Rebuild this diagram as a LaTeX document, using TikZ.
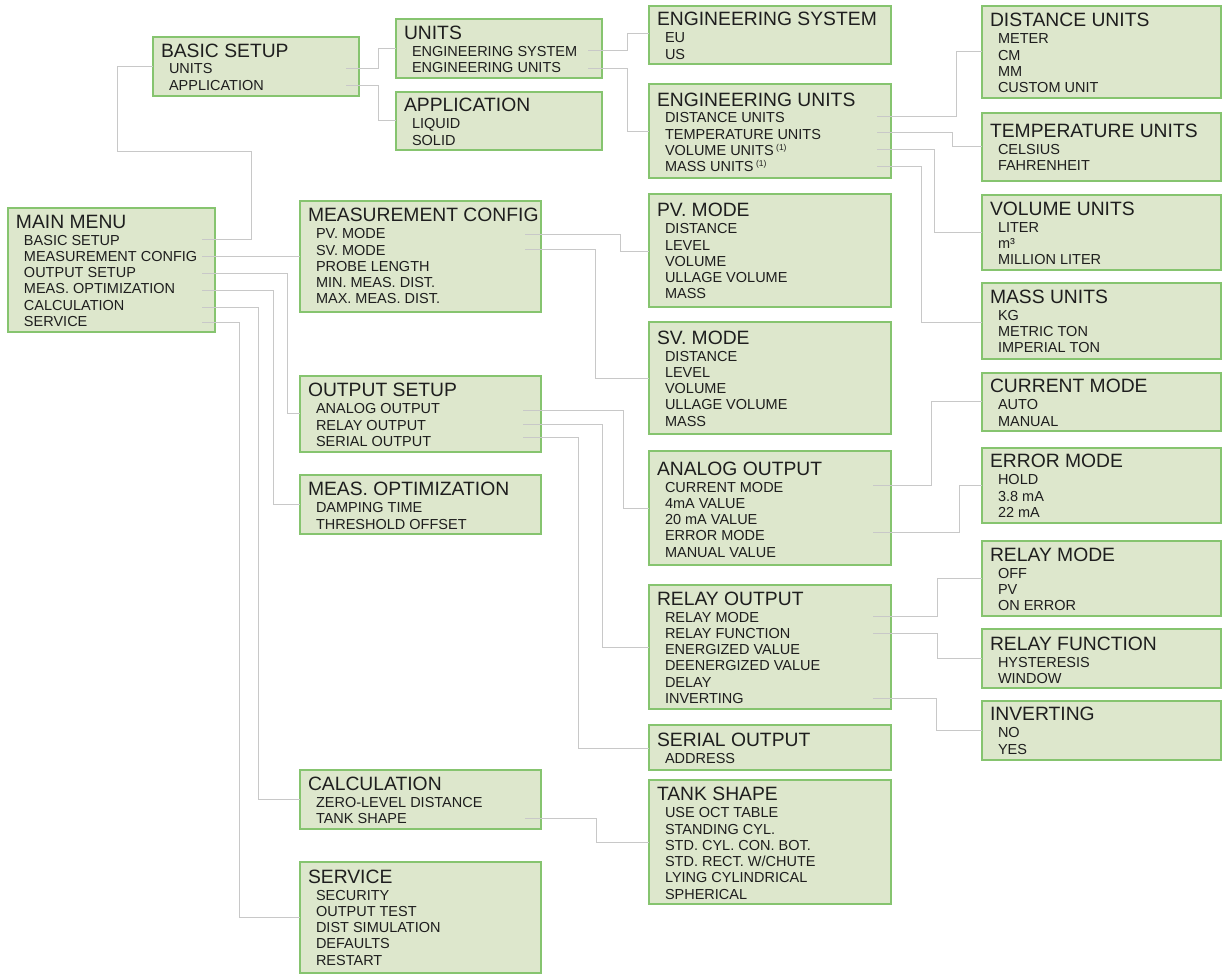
\documentclass[tikz,border=0pt]{standalone}
\usepackage{fontspec}
\setmainfont{Liberation Sans}
\usetikzlibrary{calc}
\definecolor{boxfill}{HTML}{DDE7CC}
\definecolor{boxline}{HTML}{86C46F}
\definecolor{connline}{HTML}{C8C8C8}
\definecolor{txt}{HTML}{1E1E1E}
\newcommand\nxt{\\\hspace*{16pt}}
\newcommand\sone{\,\raisebox{5pt}{\fontsize{8.5}{9}\selectfont(1)}}
\tikzset{
  menubox/.style={draw=boxline, fill=boxfill, line width=2pt, inner sep=0pt, outer sep=0pt, anchor=north west, text=txt},
  conn/.style={draw=connline, line width=1pt}
}
\newcommand\MBox[8]{%
  \node[menubox] (#1) at (#2,#3) {\parbox[t][#5pt][t]{#4pt}{\raggedright\fontsize{14.5}{16.3}\selectfont
    \rule{0pt}{#6pt}\hspace*{8pt}{\fontsize{19.3}{16.3}\selectfont #7}\\[0.7pt]\hspace*{16pt}#8}};}
\newcommand\Conn[6]{\draw[conn] ($(#1.north east)+(-#2,#3)$) -- ++(#4,0) |- ($(#5.north west)+(0,#6)$);}
\begin{document}
\begin{tikzpicture}[x=1pt,y=-1pt]
\useasboundingbox (0,0) rectangle (1222,974);
\fill[white] (0,0) rectangle (1222,974);
\MBox{mm}{8}{208}{207}{124}{20}{MAIN MENU}{BASIC SETUP\nxt MEASUREMENT CONFIG\nxt OUTPUT SETUP\nxt MEAS. OPTIMIZATION\nxt CALCULATION\nxt SERVICE}
\MBox{basic}{153}{37}{206}{59}{20}{BASIC SETUP}{UNITS\nxt APPLICATION}
\MBox{units}{396}{19}{206}{59}{20.3}{UNITS}{ENGINEERING SYSTEM\nxt ENGINEERING UNITS}
\MBox{app}{396}{92}{206}{58}{19.7}{APPLICATION}{LIQUID\nxt SOLID}
\MBox{engsys}{649}{6}{242}{58}{20}{ENGINEERING SYSTEM}{EU\nxt US}
\MBox{engunits}{649}{84}{242}{94}{22}{ENGINEERING UNITS}{DISTANCE UNITS\nxt TEMPERATURE UNITS\nxt VOLUME UNITS\sone\nxt MASS UNITS\sone}
\MBox{pv}{649}{194}{242}{113}{22.7}{PV. MODE}{DISTANCE\nxt LEVEL\nxt VOLUME\nxt ULLAGE VOLUME\nxt MASS}
\MBox{sv}{649}{322}{242}{112}{22}{SV. MODE}{DISTANCE\nxt LEVEL\nxt VOLUME\nxt ULLAGE VOLUME\nxt MASS}
\MBox{dist}{982}{6}{239}{92}{20.7}{DISTANCE UNITS}{METER\nxt CM\nxt MM\nxt CUSTOM UNIT}
\MBox{temp}{982}{113}{239}{68}{24.3}{TEMPERATURE UNITS}{CELSIUS\nxt FAHRENHEIT}
\MBox{vol}{982}{195}{239}{75}{20}{VOLUME UNITS}{LITER\nxt m³\nxt MILLION LITER}
\MBox{mass}{982}{283}{239}{76}{20.3}{MASS UNITS}{KG\nxt METRIC TON\nxt IMPERIAL TON}
\MBox{meas}{300}{201}{241}{111}{20.7}{MEASUREMENT CONFIG}{PV. MODE\nxt SV. MODE\nxt PROBE LENGTH\nxt MIN. MEAS. DIST.\nxt MAX. MEAS. DIST.}
\MBox{output}{300}{376}{241}{76}{20.7}{OUTPUT SETUP}{ANALOG OUTPUT\nxt RELAY OUTPUT\nxt SERIAL OUTPUT}
\MBox{opt}{300}{475}{241}{59}{20.7}{MEAS. OPTIMIZATION}{DAMPING TIME\nxt THRESHOLD OFFSET}
\MBox{analog}{649}{451}{242}{114}{24}{ANALOG OUTPUT}{CURRENT MODE\nxt 4mA VALUE\nxt 20 mA VALUE\nxt ERROR MODE\nxt MANUAL VALUE}
\MBox{relay}{649}{585}{242}{124}{20}{RELAY OUTPUT}{RELAY MODE\nxt RELAY FUNCTION\nxt ENERGIZED VALUE\nxt DEENERGIZED VALUE\nxt DELAY\nxt INVERTING}
\MBox{serial}{649}{725}{242}{45}{21.7}{SERIAL OUTPUT}{ADDRESS}
\MBox{tank}{649}{780}{242}{124}{20.7}{TANK SHAPE}{USE OCT TABLE\nxt STANDING CYL.\nxt STD. CYL. CON. BOT.\nxt STD. RECT. W/CHUTE\nxt LYING CYLINDRICAL\nxt SPHERICAL}
\MBox{cur}{982}{373}{239}{58}{19.7}{CURRENT MODE}{AUTO\nxt MANUAL}
\MBox{err}{982}{448}{239}{75}{19.7}{ERROR MODE}{HOLD\nxt 3.8 mA\nxt 22 mA}
\MBox{rmode}{982}{541}{239}{75}{20}{RELAY MODE}{OFF\nxt PV\nxt ON ERROR}
\MBox{rfunc}{982}{629}{239}{59}{21}{RELAY FUNCTION}{HYSTERESIS\nxt WINDOW}
\MBox{inv}{982}{701}{239}{59}{19.7}{INVERTING}{NO\nxt YES}
\MBox{calc}{300}{770}{241}{59}{20}{CALCULATION}{ZERO-LEVEL DISTANCE\nxt TANK SHAPE}
\MBox{serv}{300}{862}{241}{111}{21}{SERVICE}{SECURITY\nxt OUTPUT TEST\nxt DIST SIMULATION\nxt DEFAULTS\nxt RESTART}
% connectors
\coordinate (bendA) at (117,151);
\draw[conn] ($(mm.north east)+(-13,31)$) -- ++(49,0) |- (bendA) |- ($(basic.north west)+(0,29)$);
\draw[conn] ($(mm.north east)+(-13,48)$) coordinate (sm) -- (sm -| meas.west);
\Conn{mm}{13}{65}{85}{output}{37}
\Conn{mm}{13}{82}{71}{opt}{29}
\Conn{mm}{13}{99}{56}{calc}{29}
\Conn{mm}{13}{114}{37}{serv}{55}
\Conn{basic}{13}{31}{32}{units}{30}
\Conn{basic}{13}{48}{32}{app}{28}
\Conn{units}{14}{32}{39}{engsys}{28}
\Conn{units}{14}{49}{39}{engunits}{47}
\Conn{engunits}{14}{32}{79}{dist}{46}
\Conn{engunits}{14}{48}{75}{temp}{33}
\Conn{engunits}{14}{65}{57}{vol}{37}
\Conn{engunits}{14}{82}{44}{mass}{39}
\Conn{meas}{16}{33}{95}{pv}{57}
\Conn{meas}{16}{48}{70}{sv}{56}
\Conn{output}{18}{34}{100}{analog}{57}
\Conn{output}{18}{48}{79}{relay}{62}
\Conn{output}{18}{61}{55}{serial}{23}
\Conn{analog}{18}{34}{58}{cur}{28}
\Conn{analog}{18}{81}{86}{err}{37}
\Conn{relay}{18}{31}{64}{rmode}{37}
\Conn{relay}{18}{48}{64}{rfunc}{29}
\Conn{relay}{18}{113}{63}{inv}{29}
\Conn{calc}{16}{48}{71}{tank}{62}
\end{tikzpicture}
\end{document}
